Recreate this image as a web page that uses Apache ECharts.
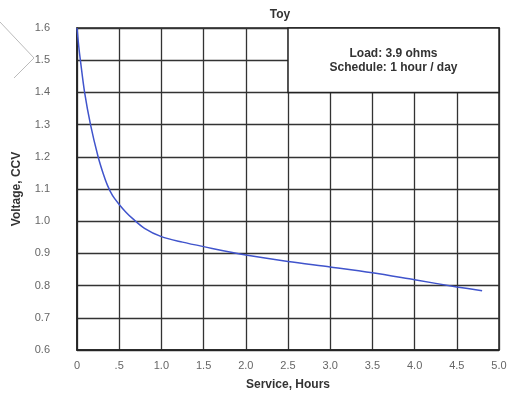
<!DOCTYPE html>
<html><head><meta charset="utf-8">
<script src="https://cdn.jsdelivr.net/npm/echarts@6/dist/echarts.min.js"></script>
<style>html,body{margin:0;padding:0;background:#fff}#c{width:511px;height:404px}</style>
</head><body><div id="c"></div>
<script>
var hours = [0, 0.02, 0.04, 0.09, 0.16, 0.25, 0.31, 0.36, 0.42, 0.5, 0.58, 0.66, 0.8, 1.0, 1.25, 1.5, 2.0, 2.5, 3.0, 3.5, 4.0, 4.5, 4.8];
var voltage = [1.6, 1.545, 1.5, 1.4, 1.3, 1.2, 1.148, 1.112, 1.08, 1.052, 1.028, 1.008, 0.978, 0.952, 0.935, 0.921, 0.895, 0.875, 0.858, 0.84, 0.818, 0.796, 0.784];
var xTickLabels = {"0":"0","0.5":".5","1":"1.0","1.5":"1.5","2":"2.0","2.5":"2.5","3":"3.0","3.5":"3.5","4":"4.0","4.5":"4.5","5":"5.0"};
var noteLines = ["Load: 3.9 ohms", "Schedule: 1 hour / day"];
var noteBox = [[2.5, 1.6], [5.0, 1.4]];

var FF = "'Liberation Sans Narrow','Liberation Sans',Arial,sans-serif";
var chart = echarts.init(document.getElementById('c'));
chart.setOption({
  animation: false,
  backgroundColor: '#fff',
  title: {text: 'Toy', left: 275, top: 4, textAlign: 'center',
    textStyle: {fontFamily: FF, fontSize: 12, fontWeight: 'bold', color: '#333'}},
  grid: {left: 77, right: 12, top: 28, bottom: 54, show: true, borderColor: '#222', borderWidth: 1.5},
  xAxis: {type: 'value', min: 0, max: 5, interval: 0.5,
    name: 'Service, Hours', nameLocation: 'middle', nameGap: 29,
    nameTextStyle: {fontFamily: FF, fontSize: 12, fontWeight: 'bold', color: '#333'},
    axisLine: {lineStyle: {color: '#222', width: 1.5}}, axisTick: {show: false},
    axisLabel: {fontFamily: FF, fontSize: 11, color: '#666', margin: 10,
      formatter: function (v) { return xTickLabels[String(Math.round(v * 10) / 10)]; }},
    splitLine: {lineStyle: {color: '#333', width: 1.3}}},
  yAxis: {type: 'value', min: 0.6, max: 1.6, interval: 0.1,
    name: 'Voltage, CCV', nameLocation: 'middle', nameGap: 54,
    nameTextStyle: {fontFamily: FF, fontSize: 12, fontWeight: 'bold', color: '#333'},
    axisLine: {show: true, lineStyle: {color: '#222', width: 1.5}}, axisTick: {show: false},
    axisLabel: {fontFamily: FF, fontSize: 11, color: '#666', margin: 27,
      formatter: function (v) { return v.toFixed(1); }},
    splitLine: {lineStyle: {color: '#333', width: 1.3}}},
  graphic: [{type: 'polyline', silent: true,
    shape: {points: [[0, 22], [34, 58], [14, 78]]},
    style: {stroke: '#bbb', lineWidth: 1, fill: null}}],
  series: [{
    type: 'line', smooth: 0.3, symbol: 'none',
    data: hours.map(function (h, i) { return [h, voltage[i]]; }),
    lineStyle: {color: '#4054cc', width: 1.5},
    markArea: {silent: true,
      itemStyle: {color: '#fff', borderColor: '#222', borderWidth: 1.5, opacity: 1},
      label: {show: true, position: 'inside', fontFamily: FF, fontSize: 12, fontWeight: 'bold',
        color: '#333', lineHeight: 14, formatter: noteLines.join('\n')},
      data: [[{coord: noteBox[0]}, {coord: noteBox[1]}]]}
  }]
});
</script></body></html>
